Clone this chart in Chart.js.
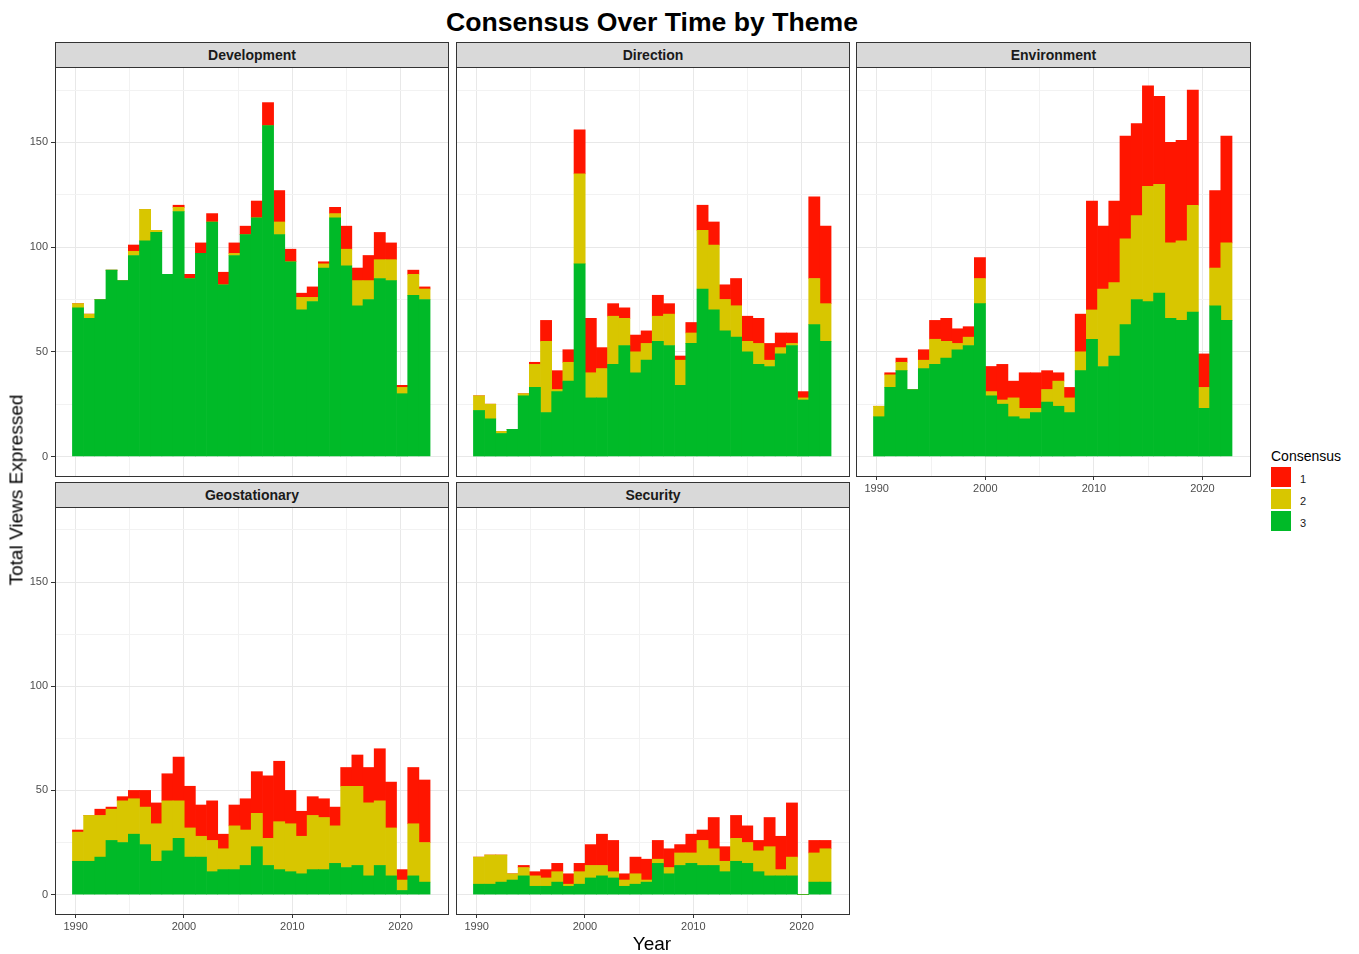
<!DOCTYPE html>
<html>
<head>
<meta charset="utf-8">
<title>Consensus Over Time by Theme</title>
<script src="https://cdn.jsdelivr.net/npm/chart.js@4.4.1/dist/chart.umd.min.js"></script>
<style>
  body { margin: 0; background: #fff; font-family: "Liberation Sans", Arial, sans-serif; }
  #wrap { position: relative; width: 1359px; height: 954px; overflow: hidden; background: #fff; }
  .strip { position: absolute; box-sizing: border-box; background: #d9d9d9; border: 1px solid #333;
           font-weight: bold; font-size: 14px; color: #1a1a1a;
           display: flex; align-items: center; justify-content: center; }
  .frame { position: absolute; box-sizing: border-box; border: 1px solid #333; pointer-events: none; }
  .txt { position: absolute; white-space: nowrap; color: #000; }
  .key { position: absolute; width: 20px; height: 20px; }
</style>
</head>
<body>
<div id="wrap"></div>
<script>
// Histogram bins (32 bins over the year range)
const binStart = 1989.70;
const binWidth = 1.032;

// Development
const devC1 = [0,0,0,0,0,3,0,0,0,1,2,5,4,6,5,4,8,11,15,6,2,5,1,3,11,6,12,13,8,1,2,1];
const devC2 = [2,2,0,0,0,2,15,1,0,2,0,0,0,0,1,0,0,0,6,0,6,2,2,2,8,12,9,9,10,3,10,5];
const devC3 = [71,66,75,89,84,96,103,107,87,117,85,97,112,82,96,106,114,158,106,93,70,74,90,114,91,72,75,85,84,30,77,75];

// Direction
const dirC1 = [0,0,0,0,0,1,10,9,6,21,26,10,6,5,8,6,10,5,2,5,12,11,7,13,12,12,8,7,5,3,39,37];
const dirC2 = [7,7,1,0,1,11,34,1,9,43,12,14,23,13,10,8,12,15,12,5,28,31,15,15,5,10,3,3,1,1,22,18];
const dirC3 = [22,18,11,13,29,33,21,31,36,92,28,28,44,53,40,46,55,53,34,54,80,70,60,57,50,44,43,49,53,27,63,55];

// Environment
const envC1 = [0,1,2,0,5,9,11,7,5,10,12,17,8,17,17,9,4,5,18,52,30,39,49,44,48,42,48,48,55,16,37,51];
const envC2 = [5,6,4,0,4,12,8,3,4,12,2,2,9,5,2,6,12,7,9,14,37,35,41,40,55,52,36,38,51,10,18,37];
const envC3 = [19,33,41,32,42,44,47,51,53,73,29,25,19,18,21,26,24,21,41,56,43,48,63,75,74,78,66,65,69,23,72,65];

// Geostationary
const geoC1 = [1,0,3,1,2,4,8,10,13,21,20,15,19,7,10,15,20,30,29,16,12,9,9,9,9,15,17,25,22,5,27,30];
const geoC2 = [14,22,20,15,20,17,18,18,24,18,14,10,15,10,21,17,16,13,23,23,18,26,25,18,39,38,35,31,23,5,25,19];
const geoC3 = [16,16,18,26,25,29,24,16,21,27,18,18,11,12,12,14,23,14,12,11,10,12,12,15,13,14,9,14,9,2,9,6];

// Security
const secC1 = [0,0,0,0,1,2,4,4,5,4,10,15,15,3,8,10,9,9,4,9,5,15,7,11,8,5,14,16,26,0,6,4];
const secC2 = [13,14,13,3,4,5,4,5,1,6,6,5,3,3,5,1,2,3,6,5,12,8,5,11,10,10,14,3,9,0,14,16];
const secC3 = [5,5,6,7,9,4,4,6,4,5,8,9,8,4,5,6,15,10,14,15,14,14,11,16,15,11,9,9,9,0,6,6];

// Axis ticks
const xTicks = [1990, 1995, 2000, 2005, 2010, 2015, 2020];
const yTicks = [0, 25, 50, 75, 100, 125, 150, 175];
const consensusLabels = ['1', '2', '3'];

const RED = '#ff1500', YELLOW = '#d8c600', GREEN = '#00ba28';
const FONT = '"Liberation Sans", Arial, sans-serif';
const MAJOR = '#e8e8e8', MINOR = '#f2f2f2';

const panels = [
  { name: 'Development',   c: [devC1, devC2, devC3], x: 55,  y: 67,  w: 393, h: 409, yLab: true,  xLab: false },
  { name: 'Direction',     c: [dirC1, dirC2, dirC3], x: 456, y: 67,  w: 393, h: 409, yLab: false, xLab: false },
  { name: 'Environment',   c: [envC1, envC2, envC3], x: 856, y: 67,  w: 394, h: 409, yLab: false, xLab: true },
  { name: 'Geostationary', c: [geoC1, geoC2, geoC3], x: 55,  y: 507, w: 393, h: 407, yLab: true,  xLab: true },
  { name: 'Security',      c: [secC1, secC2, secC3], x: 456, y: 507, w: 393, h: 407, yLab: false, xLab: true }
];

const wrap = document.getElementById('wrap');

function addDiv(cls, css, text) {
  const d = document.createElement('div');
  d.className = cls;
  d.style.cssText = css;
  if (text !== undefined) d.textContent = text;
  wrap.appendChild(d);
  return d;
}

// keep label overflow from shrinking the plot area
function noPad(s) {
  s.paddingTop = 0; s.paddingBottom = 0; s.paddingLeft = 0; s.paddingRight = 0;
}

function makePanel(p) {
  const L = p.yLab ? 50 : 0;
  const B = p.xLab ? 26 : 0;
  const canvas = document.createElement('canvas');
  canvas.width = p.w + L;
  canvas.height = p.h + B;
  canvas.style.cssText = `position:absolute;left:${p.x - L}px;top:${p.y}px;`;
  wrap.appendChild(canvas);

  const centers = p.c[0].map((_, i) => binStart + binWidth * (i + 0.5));
  const series = (vals) => vals.map((v, i) => ({ x: centers[i], y: v }));

  new Chart(canvas, {
    type: 'bar',
    data: {
      datasets: [
        { label: '3', data: series(p.c[2]), backgroundColor: GREEN },
        { label: '2', data: series(p.c[1]), backgroundColor: YELLOW },
        { label: '1', data: series(p.c[0]), backgroundColor: RED }
      ]
    },
    options: {
      responsive: false,
      animation: false,
      barPercentage: 1,
      categoryPercentage: 1,
      borderWidth: 0,
      layout: { padding: 0 },
      plugins: { legend: { display: false }, tooltip: { enabled: false } },
      scales: {
        x: {
          type: 'linear', stacked: true, min: 1988.09, max: 2024.38,
          offset: false,
          afterBuildTicks: s => { s.ticks = xTicks.map(v => ({ value: v })); },
          afterFit: s => { s.height = B; noPad(s); },
          border: { display: false },
          grid: {
            offset: false,
            color: c => (c.tick && c.tick.value % 10 === 0) ? MAJOR : MINOR,
            lineWidth: 1,
            drawTicks: B > 0,
            tickLength: 4,
            tickColor: c => (c.tick && c.tick.value % 10 === 0) ? '#333' : 'rgba(0,0,0,0)'
          },
          ticks: {
            display: B > 0, autoSkip: false, maxRotation: 0, padding: 2,
            color: '#4d4d4d', font: { family: FONT, size: 11 },
            callback: v => v % 10 === 0 ? String(v) : ''
          }
        },
        y: {
          stacked: true, min: -9.3, max: 186,
          afterBuildTicks: s => { s.ticks = yTicks.map(v => ({ value: v })); },
          afterFit: s => { s.width = L; noPad(s); },
          border: { display: false },
          grid: {
            color: c => (c.tick && c.tick.value % 50 === 0) ? MAJOR : MINOR,
            lineWidth: 1,
            drawTicks: L > 0,
            tickLength: 4,
            tickColor: c => (c.tick && c.tick.value % 50 === 0) ? '#333' : 'rgba(0,0,0,0)'
          },
          ticks: {
            display: L > 0, padding: 3,
            color: '#4d4d4d', font: { family: FONT, size: 11 },
            callback: v => v % 50 === 0 ? String(v) : ''
          }
        }
      }
    }
  });

  // panel border and facet strip
  addDiv('frame', `left:${p.x}px;top:${p.y}px;width:${p.w + 1}px;height:${p.h + 1}px;`);
  addDiv('strip', `left:${p.x}px;top:${p.y - 25}px;width:${p.w + 1}px;height:26px;`, p.name);
}

panels.forEach(makePanel);

// titles
addDiv('txt', 'left:652px;top:9px;transform:translateX(-50%);font-weight:bold;font-size:26.6px;line-height:26px;', 'Consensus Over Time by Theme');
addDiv('txt', 'left:652px;top:943px;transform:translate(-50%,-50%);font-size:19px;line-height:19px;color:#000;', 'Year');
addDiv('txt', 'left:16px;top:490px;transform:translate(-50%,-50%) rotate(-90deg);font-size:19px;line-height:19px;', 'Total Views Expressed');

// legend
addDiv('txt', 'left:1271px;top:448px;font-size:14px;line-height:16px;', 'Consensus');
const keyColors = [RED, YELLOW, GREEN];
consensusLabels.forEach((lab, i) => {
  const top = 467 + i * 22;
  addDiv('key', `left:1271px;top:${top}px;background:${keyColors[i]};`);
  addDiv('txt', `left:1300px;top:${top + 5}px;font-size:11px;line-height:14px;color:#1a1a1a;`, lab);
});
</script>
</body>
</html>
